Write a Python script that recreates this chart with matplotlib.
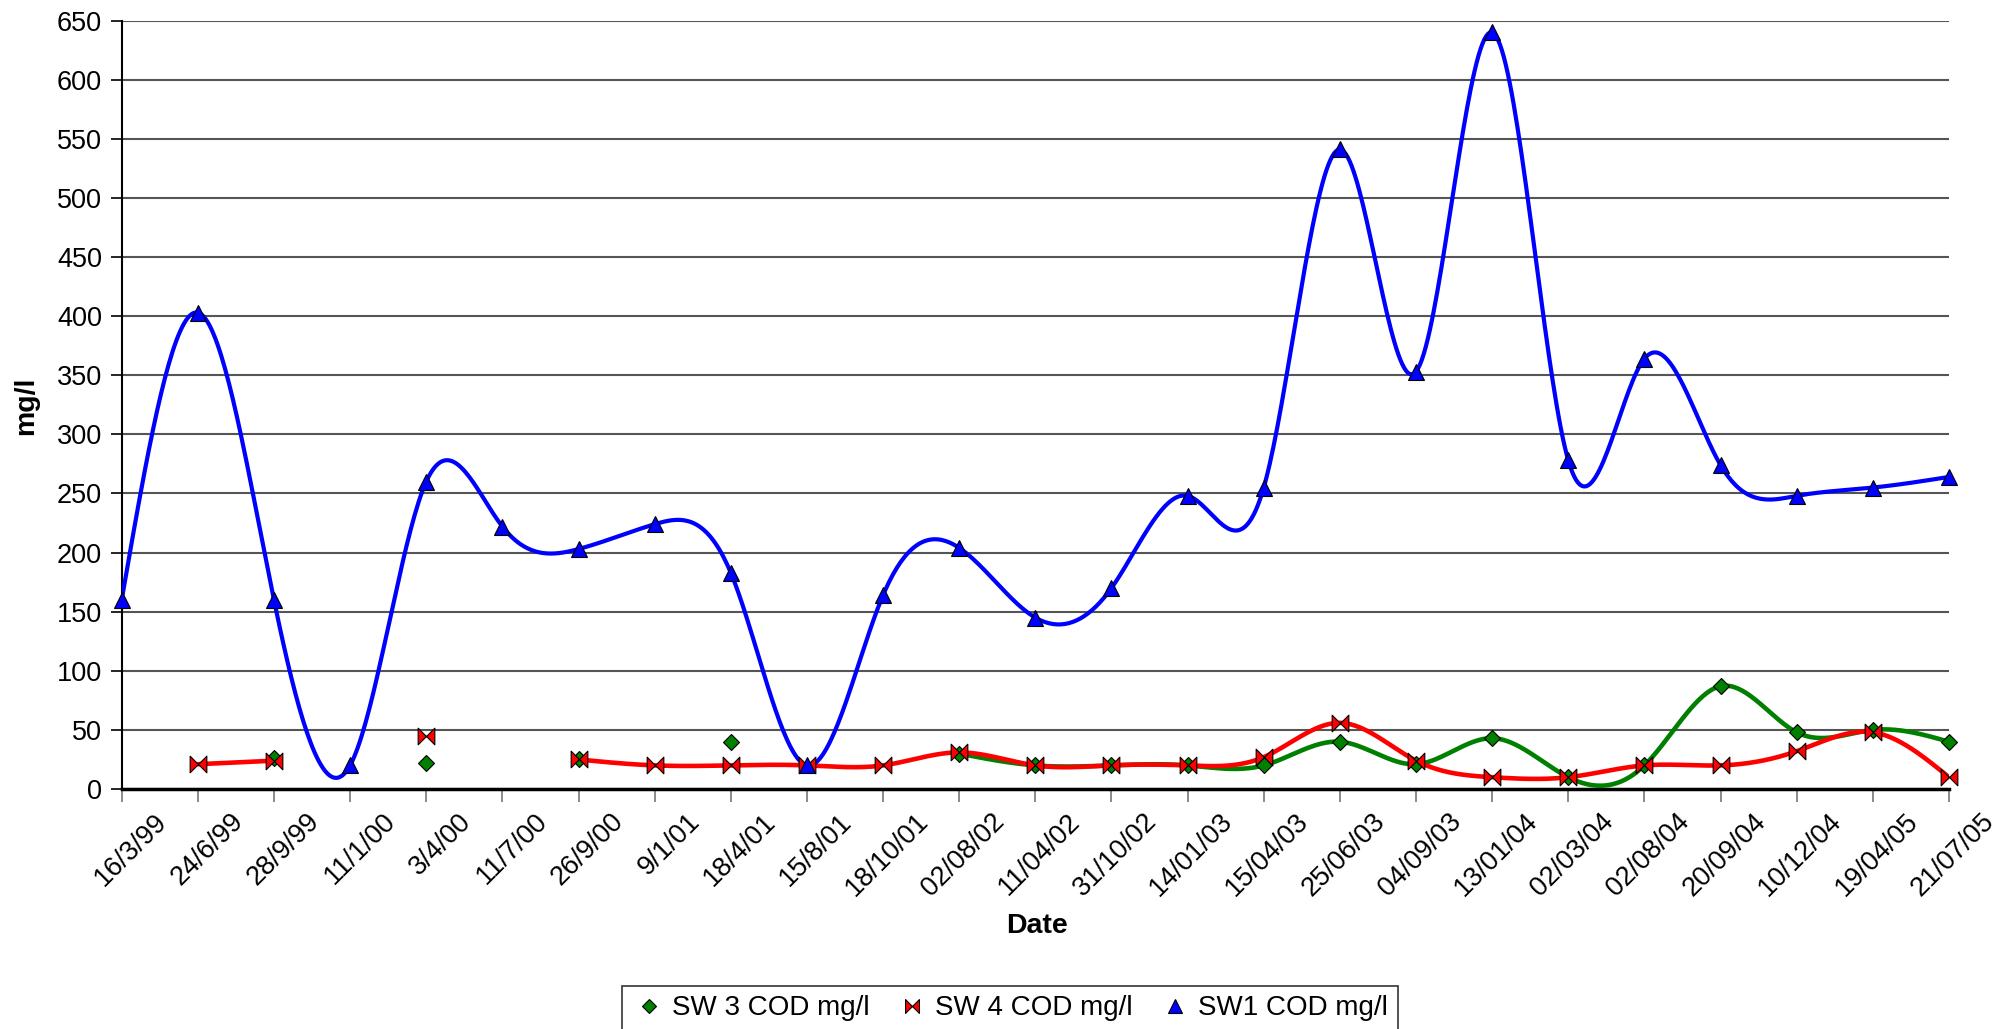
import matplotlib
matplotlib.use("Agg")
import matplotlib.pyplot as plt
import matplotlib.transforms as mtransforms
import numpy as np
from matplotlib.path import Path
from matplotlib.lines import Line2D

plt.rcParams['font.family'] = ['Liberation Sans', 'DejaVu Sans']

dates = ['16/3/99', '24/6/99', '28/9/99', '11/1/00', '3/4/00', '11/7/00', '26/9/00',
         '9/1/01', '18/4/01', '15/8/01', '18/10/01', '02/08/02', '11/04/02', '31/10/02',
         '14/01/03', '15/04/03', '25/06/03', '04/09/03', '13/01/04', '02/03/04',
         '02/08/04', '20/09/04', '10/12/04', '19/04/05', '21/07/05']

sw1 = [160, 403, 160, 20, 260, 222, 203, 224, 183, 20, 164, 204, 145, 170,
       248, 255, 541, 353, 640, 278, 364, 274, 248, 255, 264]

sw3 = [None, None, 26, None, 22, None, 25, None, 40, None, None, 30, 20, 20,
       20, 20, 40, 21, 43, 10, 20, 87, 48, 50, 40]

sw4 = [None, 21, 24, None, 45, None, 25, 20, 20, 20, 20, 31, 20, 20,
       20, 27, 56, 24, 10, 10, 20, 20, 32, 48, 10]

# bowtie marker for SW 4
bowtie = Path([(-1, -1), (0, 0), (-1, 1), (-1, -1), (1, -1), (0, 0), (1, 1), (1, -1)],
              [Path.MOVETO, Path.LINETO, Path.LINETO, Path.CLOSEPOLY,
               Path.MOVETO, Path.LINETO, Path.LINETO, Path.CLOSEPOLY])


def smooth(xs, ys, n=40):
    # natural cubic spline through the points (equal spacing)
    y = np.asarray(ys, float)
    m = len(y)
    if m < 3:
        return np.column_stack([xs, y])
    A = np.zeros((m, m))
    r = np.zeros(m)
    A[0, 0] = 1
    A[-1, -1] = 1
    for i in range(1, m - 1):
        A[i, i - 1] = 1
        A[i, i] = 4
        A[i, i + 1] = 1
        r[i] = 6 * (y[i + 1] - 2 * y[i] + y[i - 1])
    M = np.linalg.solve(A, r)
    px, py = [xs[0]], [y[0]]
    t = np.linspace(0, 1, n)[1:]
    for i in range(m - 1):
        u = 1 - t
        s = u * y[i] + t * y[i + 1] + (u**3 - u) * M[i] / 6 + (t**3 - t) * M[i + 1] / 6
        px.extend(xs[i] + t * (xs[i + 1] - xs[i]))
        py.extend(s)
    return np.column_stack([px, py])


def draw_series(ax, vals, color, lw, marker, ms):
    x = np.arange(len(vals))
    segs = []
    cur = []
    for i, v in enumerate(vals):
        if v is None:
            if cur:
                segs.append(cur)
            cur = []
        else:
            cur.append(i)
    if cur:
        segs.append(cur)
    for s in segs:
        if len(s) > 1:
            c = smooth(x[s], [vals[i] for i in s])
            ax.plot(c[:, 0], c[:, 1], color=color, lw=lw, solid_capstyle='round', zorder=3)
    xi = [i for i in range(len(vals)) if vals[i] is not None]
    yi = [vals[i] for i in xi]
    ax.plot(xi, yi, ls='none', marker=marker, ms=ms, mfc=color, mec='black',
            mew=0.8, zorder=4, clip_on=False)


fig = plt.figure(figsize=(20.08, 10.29), dpi=100)
ax = fig.add_axes([0.0606, 0.2332, 0.91, 0.7468])

draw_series(ax, sw3, '#008000', 3.3, 'D', 8.5)
draw_series(ax, sw4, '#ff0000', 3.3, bowtie, 12)
draw_series(ax, sw1, '#0000ff', 3, '^', 11.5)

ax.set_xlim(0, len(dates) - 1)
ax.set_ylim(0, 650)
ax.set_yticks(np.arange(0, 651, 50))
ax.set_xticks(np.arange(len(dates)))
ax.set_xticklabels(dates, rotation=45, ha='right', va='top', rotation_mode='anchor')
ax.tick_params(axis='y', labelsize=19.5, length=8, width=1.2, pad=6)
ax.tick_params(axis='x', labelsize=19.5, length=9, width=1.2, color='#777777', pad=5)
shift = mtransforms.ScaledTranslation(0.32, 0, fig.dpi_scale_trans)
for lab in ax.get_xticklabels():
    lab.set_transform(lab.get_transform() + shift)
ax.yaxis.grid(True, color='#555555', lw=1.5)
ax.set_axisbelow(True)
for s in ['top', 'right']:
    ax.spines[s].set_visible(False)
ax.spines['left'].set_linewidth(1.5)
ax.spines['bottom'].set_linewidth(2.5)

fig.text(0.013, 0.606, 'mg/l', rotation=90, ha='center', va='center',
         fontsize=20.5, fontweight='bold')
fig.text(0.5165, 0.100, 'Date', ha='center', va='center', fontsize=20.5, fontweight='bold')

handles = [
    Line2D([], [], ls='none', marker='D', ms=7.5, mfc='#008000', mec='black', mew=0.8),
    Line2D([], [], ls='none', marker=bowtie, ms=10, mfc='#ff0000', mec='black', mew=0.8),
    Line2D([], [], ls='none', marker='^', ms=10, mfc='#0000ff', mec='black', mew=0.8),
]
labels = ['SW 3 COD mg/l', 'SW 4 COD mg/l', 'SW1 COD mg/l']
leg = fig.legend(handles, labels, loc='lower center', bbox_to_anchor=(0.503, -0.002),
                 ncol=3, fontsize=20, frameon=True, fancybox=False, handletextpad=0.25,
                 columnspacing=0.9, handlelength=1.2, borderpad=0.35, borderaxespad=0)
leg.get_frame().set_edgecolor('black')
leg.get_frame().set_linewidth(1.2)

fig.savefig('out.png', dpi=100)
